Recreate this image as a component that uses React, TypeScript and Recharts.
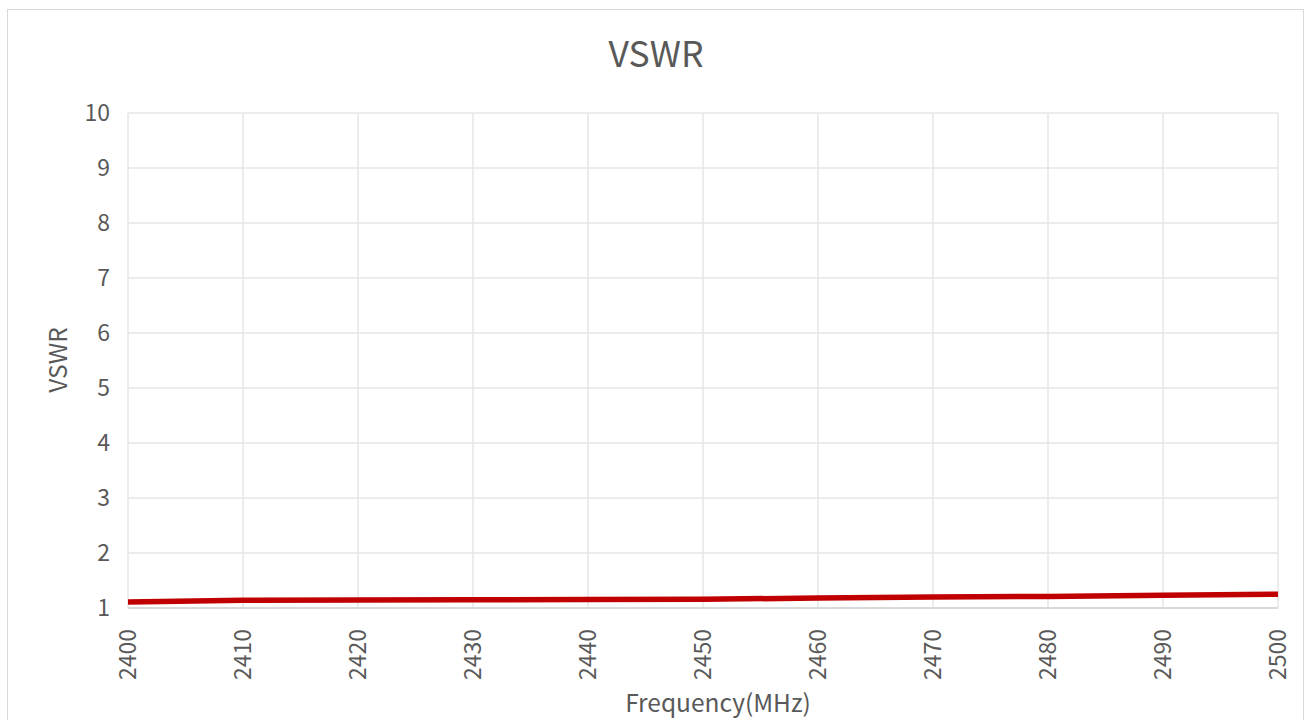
import { LineChart, Line, XAxis, YAxis, CartesianGrid } from "recharts";

const frequencies = [2400, 2410, 2420, 2430, 2440, 2450, 2460, 2470, 2480, 2490, 2500];
const vswrValues = [1.11, 1.14, 1.145, 1.15, 1.155, 1.16, 1.18, 1.2, 1.21, 1.23, 1.25];
const xTicks = [2400, 2410, 2420, 2430, 2440, 2450, 2460, 2470, 2480, 2490, 2500];
const yTicks = [1, 2, 3, 4, 5, 6, 7, 8, 9, 10];

const data = frequencies.map((f, i) => ({ freq: f, vswr: vswrValues[i] }));

const FONT = "'Noto Sans CJK SC', 'Noto Sans', sans-serif";
const GREY = "#595959";

function RotatedTick(props: any) {
  const { x, y, payload } = props;
  return (
    <g transform={`translate(${x},${y})`}>
      <text
        transform="rotate(-90)"
        x={-13}
        y={0}
        dy="0.35em"
        textAnchor="end"
        fill={GREY}
        fontSize={23}
        fontFamily={FONT}
      >
        {payload.value}
      </text>
    </g>
  );
}

export default function App() {
  return (
    <div style={{ position: "absolute", left: 0, top: 0, width: 1309, height: 720, background: "#fff" }}>
      <div
        style={{
          position: "absolute",
          left: 7,
          top: 9,
          width: 1297,
          height: 720,
          border: "1px solid #d9d9d9",
          boxSizing: "border-box",
        }}
      />
      <LineChart
        width={1309}
        height={720}
        data={data}
        margin={{ top: 113, right: 31, bottom: 16, left: 68 }}
        style={{ position: "absolute", left: 0, top: 0 }}
      >
        <CartesianGrid stroke="#e6e6e6" strokeWidth={1.5} />
        <XAxis
          dataKey="freq"
          type="number"
          domain={[2400, 2500]}
          ticks={xTicks}
          interval={0}
          tick={<RotatedTick />}
          tickLine={false}
          axisLine={{ stroke: "#d9d9d9", strokeWidth: 2 }}
          height={96}
        />
        <YAxis
          type="number"
          domain={[1, 10]}
          ticks={yTicks}
          interval={0}
          tickLine={false}
          axisLine={false}
          width={60}
          tickMargin={12}
          tick={{ fill: GREY, fontSize: 23, fontFamily: FONT }}
        />
        <Line
          type="linear"
          dataKey="vswr"
          stroke="#c00000"
          strokeWidth={5.5}
          dot={false}
          isAnimationActive={false}
        />
      </LineChart>
      <svg
        width={1309}
        height={720}
        style={{ position: "absolute", left: 0, top: 0, pointerEvents: "none" }}
      >
        <text x={656} y={67} textAnchor="middle" fill={GREY} fontSize={35.5} fontFamily={FONT}>
          VSWR
        </text>
        <text x={718} y={712} textAnchor="middle" fill={GREY} fontSize={24.5} fontFamily={FONT}>
          Frequency(MHz)
        </text>
        <text
          x={67}
          y={360}
          transform="rotate(-90, 67, 360)"
          textAnchor="middle"
          fill={GREY}
          fontSize={24.5}
          fontFamily={FONT}
        >
          VSWR
        </text>
      </svg>
    </div>
  );
}
